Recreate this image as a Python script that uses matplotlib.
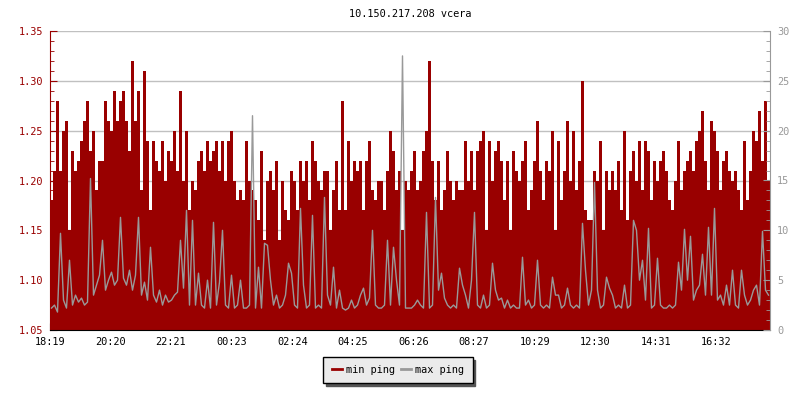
import numpy as np
import matplotlib.pyplot as plt
from matplotlib.ticker import MultipleLocator

# Data: 6-minute samples, starting at 18:19 (240 samples = 24 h)
min_ping = [
    1.18, 1.21, 1.28, 1.21, 1.25, 1.26, 1.15, 1.23, 1.21, 1.22,
    1.24, 1.26, 1.28, 1.23, 1.25, 1.19, 1.22, 1.22, 1.28, 1.26,
    1.25, 1.29, 1.26, 1.28, 1.29, 1.26, 1.23, 1.32, 1.26, 1.29,
    1.19, 1.31, 1.24, 1.17, 1.24, 1.22, 1.21, 1.24, 1.20, 1.23,
    1.22, 1.25, 1.21, 1.29, 1.20, 1.25, 1.17, 1.20, 1.19, 1.22,
    1.23, 1.21, 1.24, 1.22, 1.23, 1.24, 1.21, 1.24, 1.20, 1.24,
    1.25, 1.20, 1.18, 1.19, 1.18, 1.24, 1.20, 1.19, 1.18, 1.16,
    1.23, 1.14, 1.20, 1.21, 1.19, 1.22, 1.14, 1.20, 1.17, 1.16,
    1.21, 1.20, 1.17, 1.22, 1.20, 1.22, 1.18, 1.24, 1.22, 1.20,
    1.19, 1.21, 1.21, 1.15, 1.19, 1.22, 1.17, 1.28, 1.17, 1.24,
    1.20, 1.22, 1.21, 1.22, 1.17, 1.22, 1.24, 1.19, 1.18, 1.20,
    1.20, 1.17, 1.21, 1.25, 1.23, 1.19, 1.21, 1.15, 1.20, 1.19,
    1.21, 1.23, 1.19, 1.20, 1.23, 1.25, 1.32, 1.22, 1.18, 1.22,
    1.17, 1.19, 1.23, 1.20, 1.18, 1.20, 1.19, 1.19, 1.24, 1.20,
    1.23, 1.19, 1.23, 1.24, 1.25, 1.15, 1.24, 1.20, 1.23, 1.24,
    1.22, 1.18, 1.22, 1.15, 1.23, 1.21, 1.20, 1.22, 1.24, 1.17,
    1.19, 1.22, 1.26, 1.21, 1.18, 1.22, 1.21, 1.25, 1.15, 1.24,
    1.18, 1.21, 1.26, 1.20, 1.25, 1.19, 1.22, 1.30, 1.17, 1.16,
    1.16, 1.21, 1.20, 1.24, 1.15, 1.21, 1.19, 1.21, 1.19, 1.22,
    1.17, 1.25, 1.16, 1.21, 1.23, 1.20, 1.24, 1.19, 1.24, 1.23,
    1.18, 1.22, 1.20, 1.22, 1.23, 1.21, 1.18, 1.17, 1.20, 1.24,
    1.19, 1.21, 1.22, 1.23, 1.21, 1.24, 1.25, 1.27, 1.22, 1.19,
    1.26, 1.25, 1.23, 1.19, 1.22, 1.23, 1.21, 1.20, 1.21, 1.19,
    1.17, 1.24, 1.18, 1.21, 1.25, 1.24, 1.27, 1.22, 1.28, 1.20,
]

max_ping = [
    2.2, 2.5, 1.8, 9.7, 3.0, 2.2, 7.0, 2.5, 3.5, 2.8,
    3.2, 2.5, 2.8, 15.2, 3.5, 4.5, 5.5, 9.0, 4.0, 5.0,
    5.8, 4.5, 5.0, 11.3, 5.2, 4.5, 6.0, 4.0, 5.5, 11.3,
    3.5, 4.8, 3.0, 8.3, 3.5, 2.8, 4.0, 2.5, 3.5, 2.8,
    3.0, 3.5, 3.8, 9.0, 4.2, 12.0, 2.5, 11.0, 2.5, 5.7,
    2.5, 2.2, 5.0, 2.2, 10.8, 2.5, 4.8, 10.0, 2.5, 2.2,
    5.5, 2.2, 2.5, 5.0, 2.2, 2.2, 2.5, 21.5, 2.2, 6.3,
    2.2, 8.7, 8.5, 5.0, 2.5, 3.5, 2.2, 2.5, 3.5, 6.7,
    5.7, 2.5, 2.2, 12.2, 4.5, 2.2, 2.5, 11.5, 2.2, 2.5,
    2.2, 13.3, 3.5, 2.5, 6.3, 2.2, 4.0, 2.2, 2.0, 2.2,
    3.0, 2.2, 2.5, 3.5, 4.2, 2.5, 3.2, 10.0, 2.5, 2.2,
    2.2, 2.5, 9.0, 2.5, 8.3, 5.0, 2.5, 27.5, 2.2, 2.2,
    2.2, 2.5, 3.0, 2.5, 2.2, 11.8, 2.2, 2.5, 13.3, 4.0,
    5.7, 3.2, 2.5, 2.2, 2.5, 2.2, 6.2, 4.5, 3.5, 2.2,
    5.0, 11.8, 2.5, 2.2, 3.5, 2.2, 2.5, 6.7, 4.0, 3.0,
    3.2, 2.2, 3.0, 2.2, 2.5, 2.2, 2.2, 7.3, 2.5, 3.0,
    2.2, 2.5, 7.0, 2.5, 2.2, 2.5, 2.2, 5.3, 3.5, 3.5,
    2.2, 2.5, 4.2, 2.5, 2.2, 2.5, 2.2, 10.7, 6.0, 2.5,
    4.0, 14.8, 4.0, 2.2, 2.5, 5.3, 4.2, 3.5, 2.2, 2.5,
    2.2, 4.5, 2.2, 2.5, 11.0, 10.0, 5.0, 7.0, 3.0, 10.2,
    2.2, 2.5, 7.2, 2.5, 2.2, 2.2, 2.5, 2.2, 2.5, 6.8,
    4.0, 10.1, 5.0, 9.4, 3.0, 4.0, 4.5, 7.6, 3.5, 10.3,
    3.5, 12.2, 3.0, 3.5, 2.5, 4.5, 2.5, 6.0, 2.5, 2.2,
    6.0, 3.5, 2.5, 3.0, 4.0, 4.5, 2.5, 9.9, 4.0, 3.5,
]

step_min = 6
time_labels = ['18:19', '20:20', '22:21', '00:23', '02:24', '04:25',
               '06:26', '08:27', '10:29', '12:30', '14:31', '16:32']

red = '#990000'
grey = '#999999'
plt.rcParams['font.family'] = ['DejaVu Sans Mono']
plt.rcParams['font.size'] = 7.4

edges = np.arange(len(min_ping) + 1) * step_min
t = edges[:-1] + step_min / 2

def to_minutes(s):
    h, m = map(int, s.split(':'))
    return ((h * 60 + m) - (18 * 60 + 19)) % 1440

fig = plt.figure(figsize=(8, 4), dpi=100)
ax = fig.add_axes([0.0625, 0.175, 0.9, 0.7475])
ax.set_axisbelow(True)
ax.stairs(min_ping, edges, baseline=1.05, fill=True, color=red)
ax.set_xlim(0, 1440)
ax.set_ylim(1.05, 1.35)
ax.yaxis.set_major_locator(MultipleLocator(0.05))
ax.yaxis.set_minor_locator(MultipleLocator(0.01))
ax.yaxis.set_major_formatter(plt.FormatStrFormatter('%.2f'))
ax.grid(axis='y', color='#c0c0c0', linewidth=1)
ax.set_xticks([to_minutes(s) for s in time_labels])
ax.set_xticklabels(time_labels)
ax.tick_params(axis='y', which='both', direction='in', colors=red, labelcolor=red, pad=5)
ax.tick_params(axis='y', which='major', length=5)
ax.tick_params(axis='y', which='minor', length=3)
ax.tick_params(axis='x', direction='in', length=5, colors='black', pad=5)
ax.spines['top'].set_visible(False)
ax.spines['right'].set_visible(False)
ax.spines['left'].set_color(red)

ax2 = ax.twinx()
ax2.plot(t, max_ping, color=grey, linewidth=1)
ax2.set_ylim(0, 30)
ax2.yaxis.set_major_locator(MultipleLocator(5))
ax2.yaxis.set_minor_locator(MultipleLocator(1))
ax2.tick_params(axis='y', which='both', direction='in', colors=grey, labelcolor=grey, pad=5)
ax2.tick_params(axis='y', which='major', length=5)
ax2.tick_params(axis='y', which='minor', length=3)
for s in ['top', 'left', 'bottom']:
    ax2.spines[s].set_visible(False)
ax2.spines['right'].set_color(grey)

ax.set_title('10.150.217.208 vcera', fontsize=7.4, pad=10)

h1 = plt.Line2D([], [], color=red, linewidth=2)
h2 = plt.Line2D([], [], color=grey, linewidth=2)
leg = fig.legend([h1, h2], ['min ping', 'max ping'], loc='center',
                 bbox_to_anchor=(0.4975, 0.075), ncol=2, frameon=True, fancybox=False,
                 shadow={'color': '#555555', 'alpha': 1}, facecolor='#ebebeb',
                 edgecolor='black', handlelength=1.0, handletextpad=0.4,
                 columnspacing=0.6, borderpad=0.8, fontsize=7.4)
leg.get_frame().set_linewidth(1)

fig.savefig('out.png', dpi=100)
